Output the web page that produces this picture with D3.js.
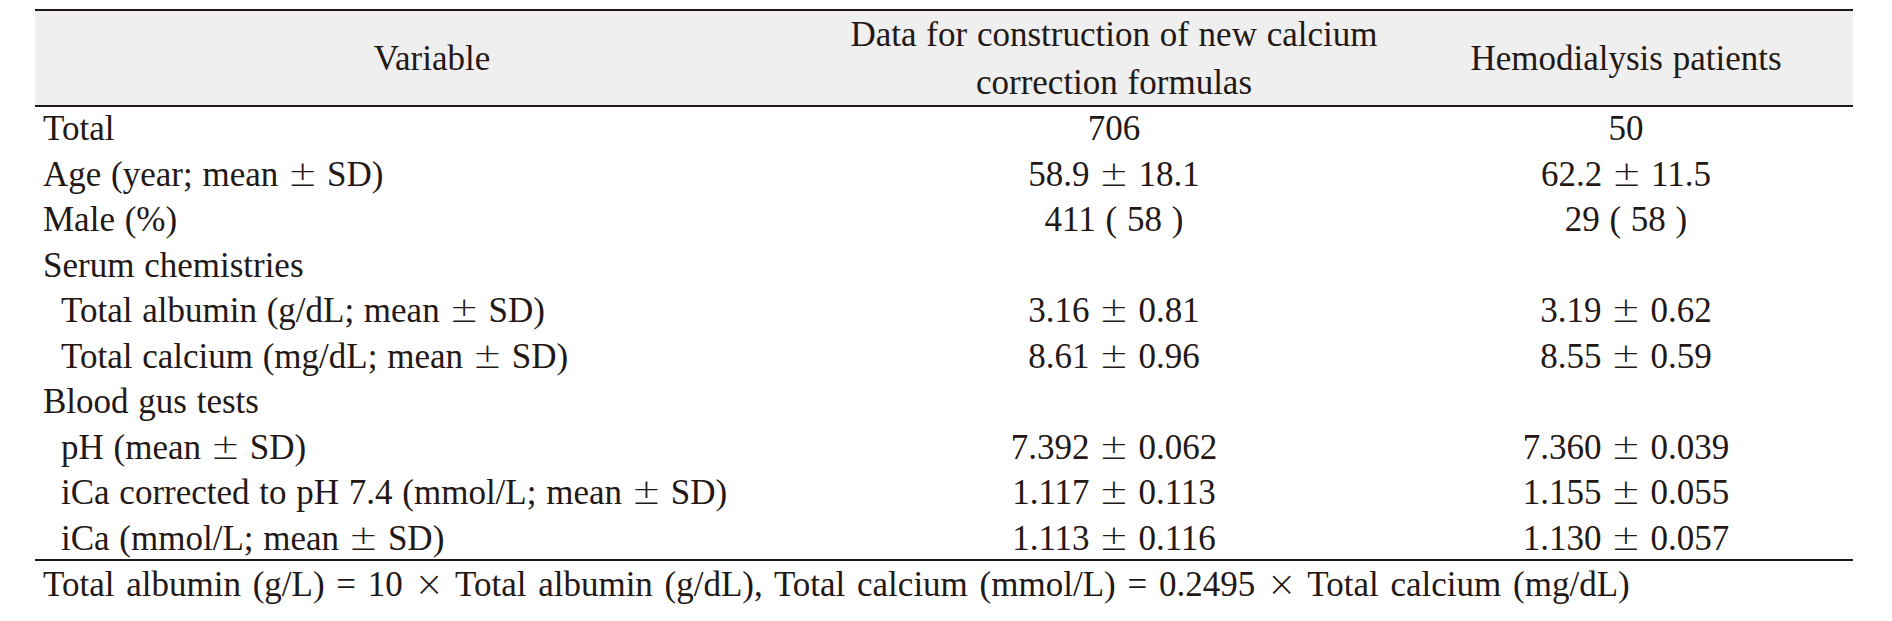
<!DOCTYPE html>
<html>
<head>
<meta charset="utf-8">
<script src="https://cdn.jsdelivr.net/npm/d3@7"></script>
<style>
  html, body { margin: 0; padding: 0; background: #fff; }
  svg text { font-family: "Liberation Serif", serif; fill: #231815; word-spacing: 1px; }
  svg tspan.pm { font-family: "DejaVu Sans", sans-serif; font-weight: 200; font-size: 35px; }
  svg text.note { word-spacing: 3px; }
</style>
</head>
<body>
<svg id="chart" width="1892" height="621"></svg>
<script>
// table content
const headers = ["Variable", ["Data for construction of new calcium", "correction formulas"], "Hemodialysis patients"];
const variables = [
    "Total",
    "Age (year; mean ± SD)",
    "Male (%)",
    "Serum chemistries",
    "Total albumin (g/dL; mean ± SD)",
    "Total calcium (mg/dL; mean ± SD)",
    "Blood gus tests",
    "pH (mean ± SD)",
    "iCa corrected to pH 7.4 (mmol/L; mean ± SD)",
    "iCa (mmol/L; mean ± SD)"
];
const indented = [false, false, false, false, true, true, false, true, true, true];
const constructionData = ["706", "58.9 ± 18.1", "411 ( 58 )", "", "3.16 ± 0.81", "8.61 ± 0.96", "", "7.392 ± 0.062", "1.117 ± 0.113", "1.113 ± 0.116"];
const hemodialysis = ["50", "62.2 ± 11.5", "29 ( 58 )", "", "3.19 ± 0.62", "8.55 ± 0.59", "", "7.360 ± 0.039", "1.155 ± 0.055", "1.130 ± 0.057"];
const footnote = "Total albumin (g/L) = 10 × Total albumin (g/dL), Total calcium (mmol/L) = 0.2495 × Total calcium (mg/dL)";

const svg = d3.select("#chart");
const fontSize = 35;
const ink = "#231815";

const left = 35, right = 1853;
const headTop = 10, headBottom = 106;

const y = d3.scalePoint()
            .domain(d3.range(variables.length))
            .range([128, 538]);

const colX = d3.scaleOrdinal()
               .domain(["var", "construction", "hemo"])
               .range([432, 1114, 1626]);

// ± and × are set wide and thin in the original, so take them from a lighter font
function addText(g, str, x, yy, anchor) {
    const t = g.append("text")
               .attr("x", x)
               .attr("y", yy)
               .attr("text-anchor", anchor || "middle")
               .style("font-size", fontSize + "px");
    str.split(/([±×])/).forEach(part => {
        if (!part) return;
        const s = t.append("tspan").text(part);
        if (part === "±" || part === "×") s.attr("class", "pm");
    });
    return t;
}

// header band
svg.append("rect")
   .attr("x", left)
   .attr("y", headTop)
   .attr("width", right - left)
   .attr("height", headBottom - headTop)
   .style("fill", "#efefef");

const lines = [headTop, headBottom, 560];
svg.selectAll(".rule")
   .data(lines)
   .enter()
   .append("line")
   .attr("class", "rule")
   .attr("x1", left)
   .attr("x2", right)
   .attr("y1", d => d)
   .attr("y2", d => d)
   .style("stroke", ink)
   .style("stroke-width", 2);

const head = svg.append("g").attr("class", "header");
const headMid = (headTop + headBottom) / 2;
addText(head, headers[0], colX("var"), headMid + 12);
addText(head, headers[1][0], colX("construction"), headMid - 24 + 12);
addText(head, headers[1][1], colX("construction"), headMid + 24 + 12);
addText(head, headers[2], colX("hemo"), headMid + 12);

const body = svg.append("g").attr("class", "body");
variables.forEach((v, i) => {
    const yy = y(i) + 12;
    addText(body, v, left + 8 + (indented[i] ? 18 : 0), yy, "start");
    if (constructionData[i]) addText(body, constructionData[i], colX("construction"), yy);
    if (hemodialysis[i]) addText(body, hemodialysis[i], colX("hemo"), yy);
});

addText(svg, footnote, left + 8, 596, "start").attr("class", "note");
</script>
</body>
</html>
